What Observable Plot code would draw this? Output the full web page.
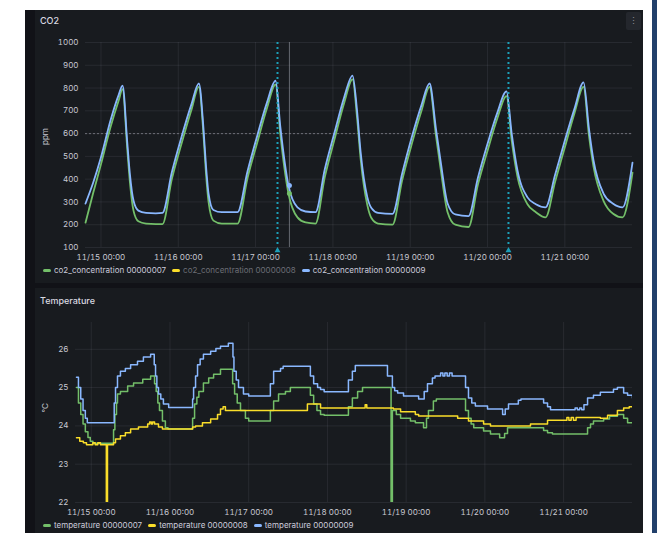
<!DOCTYPE html>
<html><head><meta charset="utf-8">
<script src="https://cdn.jsdelivr.net/npm/d3@7"></script>
<script src="https://cdn.jsdelivr.net/npm/@observablehq/plot@0.6"></script>
<style>
html,body{margin:0;padding:0;background:#fff;width:665px;height:533px;overflow:hidden;font-family:Inter,"Open Sans",sans-serif;}
#bg{position:absolute;left:25px;top:10px;width:618px;height:523px;background:#111217;}
.panel{position:absolute;left:35px;width:608px;background:#181b1f;}
#p1{top:10px;height:273px;}
#p2{top:288px;height:245px;}
.title{position:absolute;left:5px;font-size:9px;font-weight:500;color:#d8d9e0;line-height:12px;}
.chart{position:absolute;left:0;}
.legend{position:absolute;left:8px;display:flex;align-items:center;font-size:8px;color:#ccccdc;line-height:11px;white-space:nowrap;}
.legend .item{display:flex;align-items:center;margin-right:6px;}
.legend .mk{display:inline-block;width:8px;height:3px;border-radius:2px;margin-right:3px;}
.legend .dim{color:#6c6e76;}
#menu{position:absolute;left:591px;top:2px;width:15px;height:18px;background:#24272d;color:#8e8e96;font-size:9px;line-height:18px;text-align:center;border-radius:2px;}
#bar{position:absolute;left:652px;top:0;width:5px;height:533px;background:#22406b;}
</style></head>
<body>
<div id="bg"></div>
<div id="p1" class="panel">
  <div class="title" style="top:5px">CO2</div>
  <div id="menu">⋮</div>
  <div id="c1" class="chart" style="top:18px"></div>
  <div id="l1" class="legend" style="top:255px"></div>
</div>
<div id="p2" class="panel">
  <div class="title" style="top:7px">Temperature</div>
  <div id="c2" class="chart" style="top:22px"></div>
  <div id="l2" class="legend" style="top:232px"></div>
</div>
<div id="bar"></div>
<script>
// ---------- data (hours since 11/15 00:00) ----------
const xDomainHours = [-4.8, 165];
const dayTickHours = [0, 24, 48, 72, 96, 120, 144];
const co2Ticks = [100, 200, 300, 400, 500, 600, 700, 800, 900, 1000];
const tempTicks = [22, 23, 24, 25, 26];
const co2AxisLabel = "ppm";
const tempAxisLabel = "°C";

const co2Hours = [-4.8,-2.4,0,3,5.5,6.7,8.2,9,10.1,11.6,14,17,19.1,
  22,25,28,30.4,31.8,32.6,33.4,34.9,37.5,42.4,
  45.5,48.5,51.5,54.2,55.7,58.2,61,63.5,66.6,
  69.5,72.5,75.5,78.1,79.5,80.6,82.7,84,86,90.5,
  93.5,96.5,99.5,102,104,105.4,107.6,110,114.1,
  117,120,123,125.9,127.5,129.3,132.4,135,138,
  141,144,147,149.8,151.5,152.9,156,159,161.9,165];
const co2_00000009 = [293,385,496,660,770,811,555,420,306,262,252,250,252,
  430,585,725,820,627,460,337,265,255,255,
  435,590,735,832,627,372,276,258,255,
  445,605,760,855,700,520,320,272,252,248,
  425,585,725,820,620,482,293,245,238,
  405,555,690,785,600,438,320,290,276,
  420,570,710,825,620,482,337,292,276,473];
const co2_00000007 = [209,340,465,630,745,795,525,385,262,215,205,203,203,
  400,555,700,805,600,425,300,218,205,205,
  405,560,710,815,595,337,232,210,205,
  410,575,735,838,670,490,285,228,205,200,
  395,555,700,805,590,450,255,200,190,
  375,525,665,765,570,410,290,255,232,
  390,540,690,805,590,455,305,248,232,429];

const annotationHours = [54.8, 126.5];
const crosshairHour = [58.5];
const hoverValues09 = [372];
const hoverValues07 = [337];

const temp09Hours = [-4.5,-3.9,-3.2,-2.5,-1.8,-1.2,7.0,7.4,8.0,8.9,10.4,12.0,14.1,15.9,18.1,19.2,19.6,20.0,20.5,21.2,22.0,23.6,
  30.9,31.2,31.8,32.4,33.2,34.2,36.4,38.0,39.4,41.8,43.2,43.5,44.2,44.9,46.4,48,
  54.6,55.6,57.7,58.5,66.8,67.8,69.0,69.9,71,78.4,79.6,80.5,
  90.3,91.8,92.5,93.4,95.2,99.8,101.5,102.5,104.0,104.8,106.5,107.2,107.8,108.5,109.2,110,111,
  114.1,115.0,116,117.1,120.8,125.4,126.2,127.2,130.2,131,
  137.9,139.1,140,147.5,148.2,148.9,149.5,150.2,151.3,153.1,155.2,159.2,160.4,162.3,163.5,165];
const temp09Vals = [25.27,25.0,24.7,24.4,24.2,24.08,24.6,25.0,25.3,25.43,25.5,25.6,25.69,25.8,25.87,25.6,25.3,25.0,24.83,24.7,24.57,24.48,
  24.7,25.0,25.3,25.6,25.75,25.87,25.95,26.02,26.08,26.16,25.8,25.43,25.2,25.0,24.83,24.78,
  25.1,25.43,25.5,25.56,25.3,25.1,25.0,24.95,24.89,25.2,25.43,25.58,
  25.3,25.0,24.92,24.86,24.78,24.7,24.9,25.1,25.25,25.3,25.38,25.3,25.38,25.3,25.38,25.3,25.3,
  25.0,24.73,24.6,24.52,24.44,24.3,24.44,24.57,24.67,24.7,
  24.6,24.5,24.42,24.47,24.42,24.47,24.42,24.55,24.73,24.8,24.88,24.96,25.0,24.86,24.8,24.73];

const temp07Hours = [-4.5,-3.9,-3.2,-2.5,-1.8,-1.0,-0.3,0.5,6.8,7.2,7.7,8.0,8.9,11.1,12.9,15.7,18.1,
  19.3,19.8,20.3,20.8,21.7,22.6,23.4,30.9,31.5,32.2,32.8,34.2,35.8,37.3,39.4,
  43.1,43.7,44.5,45.5,47.0,48,54.6,55.6,57.1,59.2,60.7,66.8,67.8,68.8,69.9,71,
  78.4,79.6,81.2,82.7,91.4,91.8,93,94.3,97.3,98.8,101.3,102.2,102.8,104.3,105.2,
  114.1,115.0,115.8,116.6,119.6,121.7,124.5,126.0,126.9,137.9,139.1,140.6,
  151.3,152.2,153.1,156.2,158,160.4,162.3,163.5,165];
const temp07Vals = [25.0,24.6,24.3,24.05,23.85,23.7,23.6,23.55,23.9,24.3,24.6,24.83,24.9,25.04,25.12,25.22,25.3,
  25.1,24.9,24.6,24.4,24.13,23.95,23.92,24.2,24.57,24.75,24.9,25.12,25.25,25.35,25.48,
  25.1,24.83,24.6,24.4,24.2,24.13,24.4,24.65,24.83,24.9,25.0,24.8,24.57,24.4,24.3,24.28,
  24.5,24.73,24.9,25.0,22.0,24.4,24.3,24.2,24.13,24.08,23.95,24.2,24.4,24.65,24.7,
  24.4,24.2,24.05,23.95,23.87,23.79,23.69,23.8,23.95,23.88,23.82,23.79,
  23.95,24.05,24.13,24.18,24.25,24.3,24.2,24.08,24.08];

const temp08Hours = [-4.5,-3.5,-2.4,-1.45,0.5,1.2,2.0,2.8,4.6,4.95,6.8,7.4,8.9,10.4,12.0,14.4,17.2,17.8,18.3,18.7,19.3,20.5,21.7,
  30.9,31.8,33.9,36.4,38.5,39.4,40.2,40.9,65.9,69.9,83.5,84.0,
  92.1,94.3,98.8,99.8,111.7,115.0,119.6,121.7,133.9,139.1,145,145.6,146.3,147,147.8,
  155.2,157.4,160.4,162.3,164,165];
const temp08Vals = [23.69,23.6,23.56,23.51,23.56,23.51,23.56,23.51,22.0,23.51,23.56,23.66,23.74,23.82,23.92,23.97,24.05,24.1,24.05,24.1,24.05,23.97,23.92,
  23.97,24.0,24.08,24.18,24.3,24.44,24.5,24.4,24.57,24.47,24.55,24.47,
  24.44,24.37,24.3,24.26,24.2,24.13,24.05,24.0,24.05,24.15,24.22,24.15,24.22,24.15,24.22,
  24.2,24.28,24.4,24.47,24.5,24.5];

const co2SeriesNames = ["co2_concentration 00000007", "co2_concentration 00000008", "co2_concentration 00000009"];
const tempSeriesNames = ["temperature 00000007", "temperature 00000008", "temperature 00000009"];
const seriesColors = ["#73BF69", "#FADE2A", "#8AB8FF"];

// ---------- helpers ----------
const base = new Date(2023, 10, 15, 0, 0).getTime();
const T = h => new Date(base + h * 3600000);
const fmt = d3.timeFormat("%m/%d %H:%M");
const xDomain = xDomainHours.map(T);
const dayTicks = dayTickHours.map(T);
const gridColor = "rgba(204,204,220,0.09)";
const textColor = "#c8c9d2";
const annColor = "#1b9fb9";

const co2Rows = [];
co2Hours.forEach((h, i) => {
  co2Rows.push({date: T(h), value: co2_00000007[i], s: "07"});
  co2Rows.push({date: T(h), value: co2_00000009[i], s: "09"});
});
function rows(hours, vals, s) { return hours.map((h, i) => ({date: T(h), value: vals[i], s})); }
const tempRows = [
  ...rows(temp07Hours, temp07Vals, "07"),
  ...rows(temp08Hours, temp08Vals, "08"),
  ...rows(temp09Hours, temp09Vals, "09")
];
const colorScale = {domain: ["07", "08", "09"], range: seriesColors};

const co2 = Plot.plot({
  width: 608, height: 236,
  marginLeft: 50, marginRight: 11, marginTop: 14, marginBottom: 17,
  style: {background: "transparent", color: textColor, fontFamily: "Inter, sans-serif", fontSize: "8px", overflow: "visible"},
  x: {type: "time", domain: xDomain},
  y: {domain: [100, 1000]},
  color: colorScale,
  marks: [
    Plot.gridY(co2Ticks, {stroke: gridColor, strokeOpacity: 1}),
    Plot.gridX(dayTicks, {stroke: gridColor, strokeOpacity: 1}),
    Plot.ruleY([600], {stroke: "#6d7078", strokeDasharray: "2,2", strokeWidth: 1}),
    Plot.axisY(co2Ticks, {tickSize: 0, tickPadding: 7, tickFormat: d => String(d), label: null, fill: textColor}),
    Plot.text([co2AxisLabel], {frameAnchor: "left", dx: -40, rotate: -90, fill: textColor, fontSize: 8}),
    Plot.axisX(dayTicks, {tickSize: 0, tickPadding: 7, tickFormat: fmt, label: null, fill: textColor}),
    Plot.ruleX(crosshairHour.map(T), {stroke: "#9a9ca5", strokeOpacity: 0.6, strokeWidth: 1}),
    Plot.line(co2Rows, {x: "date", y: "value", z: "s", stroke: "s", strokeWidth: 1.8, curve: "monotone-x"}),
    Plot.ruleX(annotationHours.map(T), {stroke: annColor, strokeWidth: 2, strokeDasharray: "2,3"}),
    Plot.dot(annotationHours.map(T), {x: d => d, y: () => 100, symbol: "triangle", r: 2.2, fill: annColor, dy: 3}),
    Plot.dot(crosshairHour.map(T), {x: d => d, y: () => hoverValues07[0], r: 2.5, fill: seriesColors[0]}),
    Plot.dot(crosshairHour.map(T), {x: d => d, y: () => hoverValues09[0], r: 2.5, fill: seriesColors[2]})
  ]
});
document.getElementById("c1").appendChild(co2);

const temp = Plot.plot({
  width: 608, height: 208,
  marginLeft: 40, marginRight: 11, marginTop: 12, marginBottom: 16,
  style: {background: "transparent", color: textColor, fontFamily: "Inter, sans-serif", fontSize: "8px", overflow: "visible"},
  x: {type: "time", domain: xDomain},
  y: {domain: [22, 26.7]},
  color: colorScale,
  marks: [
    Plot.gridY(tempTicks, {stroke: gridColor, strokeOpacity: 1}),
    Plot.gridX(dayTicks, {stroke: gridColor, strokeOpacity: 1}),
    Plot.axisY(tempTicks, {tickSize: 0, tickPadding: 7, tickFormat: d => String(d), label: null, fill: textColor}),
    Plot.text([tempAxisLabel], {frameAnchor: "left", dx: -30, rotate: -90, fill: textColor, fontSize: 8}),
    Plot.axisX(dayTicks, {tickSize: 0, tickPadding: 7, tickFormat: fmt, label: null, fill: textColor}),
    Plot.line(tempRows, {x: "date", y: "value", z: "s", stroke: "s", strokeWidth: 1.5, curve: "step-after", clip: true})
  ]
});
document.getElementById("c2").appendChild(temp);

function legend(el, names, dimIndex) {
  const box = document.getElementById(el);
  names.forEach((n, i) => {
    const it = document.createElement("div");
    it.className = "item";
    const mk = document.createElement("span");
    mk.className = "mk"; mk.style.background = seriesColors[i];
    const tx = document.createElement("span");
    tx.textContent = n;
    if (i === dimIndex) tx.className = "dim";
    it.appendChild(mk); it.appendChild(tx);
    box.appendChild(it);
  });
}
legend("l1", co2SeriesNames, 1);
legend("l2", tempSeriesNames, -1);
</script>
</body></html>
